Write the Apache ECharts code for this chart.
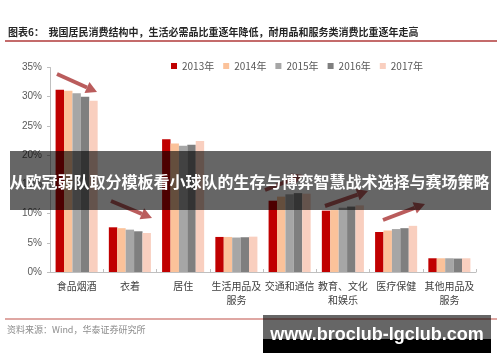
<!DOCTYPE html>
<html>
<head>
<meta charset="utf-8">
<script src="https://cdn.jsdelivr.net/npm/echarts@6/dist/echarts.min.js"></script>
<style>
html,body{margin:0;padding:0;background:#fff;}
#c{width:500px;height:362px;}
</style>
</head>
<body>
<div id="c"></div>
<script>
const categories = ['食品烟酒','衣着','居住','生活用品及\n服务','交通和通信','教育、文化\n和娱乐','医疗保健','其他用品及\n服务'];
const years = ['2013年','2014年','2015年','2016年','2017年'];
const s2013 = [31.2, 7.65, 22.7, 6.0, 12.2, 10.5, 6.85, 2.35];
const s2014 = [31.0, 7.5, 22.0, 6.0, 12.9, 10.6, 7.1, 2.35];
const s2015 = [30.6, 7.25, 21.6, 5.9, 13.3, 11.0, 7.35, 2.35];
const s2016 = [30.0, 6.97, 21.8, 5.95, 13.5, 11.2, 7.5, 2.3];
const s2017 = [29.3, 6.68, 22.4, 6.05, 13.4, 11.4, 7.9, 2.35];
const yTicks = [0, 5, 10, 15, 20, 25, 30, 35];

const colors = ['#c00000', '#fbc29a', '#a6a6a6', '#7f7f7f', '#f9cfbf'];
const seriesData = [s2013, s2014, s2015, s2016, s2017];

const CJK = '"Noto Sans CJK SC", "Noto Sans", sans-serif';

function arrow(x1, y1, x2, y2) {
  const dx = x2 - x1, dy = y2 - y1;
  const len = Math.sqrt(dx*dx + dy*dy);
  const ux = dx/len, uy = dy/len;
  const hl = 11, hw = 6;
  const bx = x2 - ux*hl, by = y2 - uy*hl;
  const px = -uy, py = ux;
  return [
    {type:'line', z:20, shape:{x1:x1, y1:y1, x2:bx, y2:by}, style:{stroke:'#b24a4a', lineWidth:4, opacity:0.9}},
    {type:'polygon', z:20, shape:{points:[[x2,y2],[bx+px*hw,by+py*hw],[bx-px*hw,by-py*hw]]}, style:{fill:'#b24a4a', opacity:0.9}}
  ];
}

const chart = echarts.init(document.getElementById('c'), null, {renderer:'canvas'});

const graphics = [].concat(
  [
    {type:'text', z:5, left:8, top:27, style:{text:'图表6：  我国居民消费结构中，生活必需品比重逐年降低，耐用品和服务类消费比重逐年走高', font:'bold 10px ' + CJK, fill:'#262626'}},
    {type:'line', z:5, shape:{x1:5, y1:41, x2:497, y2:41}, style:{stroke:'#b03a3a', lineWidth:1.5}},
    {type:'line', z:5, shape:{x1:5, y1:319, x2:497, y2:319}, style:{stroke:'#d48a85', lineWidth:1.5}},
    {type:'text', z:5, left:7, top:325, style:{text:'资料来源：Wind，华泰证券研究所', font:'9px ' + CJK, fill:'#8c8c8c'}}
  ],
  arrow(57, 74, 97, 92),
  arrow(111, 201, 152, 218),
  arrow(265, 190, 303, 175),
  arrow(325, 206, 368, 191),
  arrow(383, 220, 425, 204),
  [
    {type:'rect', z:100, shape:{x:10, y:151, width:481, height:59}, style:{fill:'rgba(0,0,0,0.6)'}},
    {type:'text', z:101, x:249.5, y:182, style:{text:'从欧冠弱队取分模板看小球队的生存与博弈智慧战术选择与赛场策略', font:'bold 16px ' + CJK, fill:'#ffffff', align:'center', verticalAlign:'middle'}},
    {type:'rect', z:100, shape:{x:263, y:315, width:228, height:24}, style:{fill:'rgba(0,0,0,0.6)'}},
    {type:'rect', z:100, shape:{x:263, y:339, width:228, height:14}, style:{fill:'#000000'}},
    {type:'text', z:101, x:377, y:335, style:{text:'www.broclub-lgclub.com', font:'bold 18px "Liberation Sans", Arial, sans-serif', fill:'#ffffff', align:'center', verticalAlign:'middle'}}
  ]
);

chart.setOption({
  animation: false,
  backgroundColor: '#ffffff',
  color: colors,
  legend: {
    data: years,
    left: 166,
    top: 56,
    icon: 'rect',
    itemWidth: 6,
    itemHeight: 6,
    itemGap: 9,
    textStyle: {fontSize: 10, color: '#595959', fontFamily: CJK}
  },
  grid: {left: 50, right: 24, top: 67.5, bottom: 90, containLabel: false},
  xAxis: {
    type: 'category',
    data: categories,
    axisLine: {lineStyle: {color: '#bfbfbf'}},
    axisTick: {show: true, inside: true, length: 3, lineStyle: {color: '#bfbfbf'}},
    axisLabel: {interval: 0, fontSize: 10, color: '#404040', lineHeight: 14, margin: 7, fontFamily: CJK}
  },
  yAxis: {
    type: 'value',
    min: yTicks[0],
    max: yTicks[yTicks.length - 1],
    interval: 5,
    axisLine: {show: true, lineStyle: {color: '#bfbfbf'}},
    axisTick: {show: true, length: 3, lineStyle: {color: '#bfbfbf'}},
    splitLine: {show: false},
    axisLabel: {formatter: '{value}%', fontSize: 10, color: '#595959', margin: 8, fontFamily: '"Liberation Sans", Arial, sans-serif'}
  },
  series: years.map((y, i) => ({
    name: y,
    type: 'bar',
    data: seriesData[i],
    barGap: '0%',
    barCategoryGap: '21%',
    itemStyle: {color: colors[i]}
  })),
  graphic: graphics
});
</script>
</body>
</html>
